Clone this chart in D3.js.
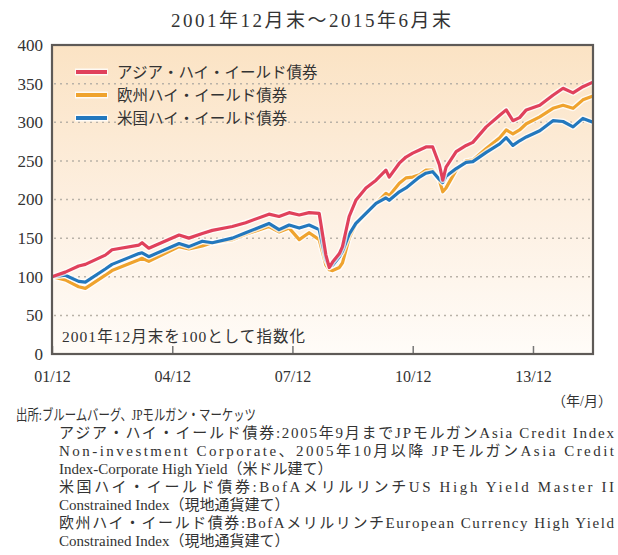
<!DOCTYPE html>
<html>
<head>
<meta charset="utf-8">
<script src="https://cdn.jsdelivr.net/npm/d3@7"></script>
<style>
  body { margin: 0; background: #fff; }
  svg text { font-family: "Liberation Serif", "DejaVu Serif", "Noto Sans CJK JP", serif; fill: #333; }
  .axis .domain { display: none; }
  .grid line { stroke: #b9b2a8; stroke-width: 1.5; stroke-dasharray: 2,4; }
</style>
</head>
<body>
<div id="chart"></div>
<script>
// Data (index, 2001/12 = 100)
var dates = ["2001-12","2002-04","2002-08","2002-10","2003-04","2003-06","2004-02","2004-03","2004-05",
  "2005-02","2005-05","2005-09","2005-12","2006-06","2006-10","2007-05","2007-08","2007-11","2008-02",
  "2008-05","2008-08","2008-10","2008-11","2008-12","2009-02","2009-03","2009-05","2009-07","2009-10",
  "2010-01","2010-04","2010-05","2010-08","2010-10","2010-12","2011-02","2011-04","2011-06","2011-08",
  "2011-09","2011-10","2012-01","2012-04","2012-06","2012-10","2013-02","2013-04","2013-06","2013-08",
  "2013-10","2014-02","2014-06","2014-09","2014-12","2015-03","2015-06"];

var asia = [100,106,114,116,128,135,141,144,137,154,150,156,160,165,170,181,178,183,180,
  183,182,128,112,119,130,139,178,199,215,225,238,229,247,255,260,264,268,268,245,
  225,242,262,270,274,294,309,316,302,306,316,322,335,344,338,346,352];

var europe = [100,96,87,85,102,108,122,124,120,139,136,140,144,148,155,165,158,163,148,
  157,148,115,109,108,112,118,150,168,182,195,208,205,221,228,229,232,238,238,225,
  210,215,238,250,251,266,280,290,285,290,298,307,318,322,318,329,334];

var us = [100,102,94,93,110,116,130,131,126,143,139,146,144,150,157,169,161,167,163,
  167,161,122,113,115,126,133,155,169,182,195,202,199,210,215,222,229,234,236,226,
  222,230,240,248,249,261,272,280,270,276,281,289,302,301,294,305,300];

var seriesNames = ["アジア・ハイ・イールド債券", "欧州ハイ・イールド債券", "米国ハイ・イールド債券"];
var seriesColors = ["#e0415c", "#efa32e", "#2378be"];

var yTicks = [0, 50, 100, 150, 200, 250, 300, 350, 400];
var xTickLabels = ["01/12", "04/12", "07/12", "10/12", "13/12"];

var titleText = "2001年12月末～2015年6月末";
var noteText = "2001年12月末を100として指数化";
var unitText = "（年/月）";
var sourceLines = [
  "出所:ブルームバーグ、JPモルガン・マーケッツ",
  "アジア・ハイ・イールド債券:2005年9月までJPモルガンAsia Credit Index",
  "Non-investment Corporate、2005年10月以降 JPモルガンAsia Credit",
  "Index-Corporate High Yield（米ドル建て）",
  "米国ハイ・イールド債券:BofAメリルリンチUS High Yield Master II",
  "Constrained Index（現地通貨建て）",
  "欧州ハイ・イールド債券:BofAメリルリンチEuropean Currency High Yield",
  "Constrained Index（現地通貨建て）"
];
var justified = [false, true, true, false, true, false, true, false];

var render = function() {
  var width = 618, height = 555;
  var margins = { top: 45, right: 25, bottom: 201, left: 52 };
  var chartWidth = width - margins.left - margins.right;
  var chartHeight = height - margins.top - margins.bottom;

  var parse = d3.timeParse("%Y-%m");
  var data = dates.map(function(d, i) {
    return { date: parse(d), values: [asia[i], europe[i], us[i]] };
  });

  var svg = d3.select("#chart").append("svg")
    .attr("width", width)
    .attr("height", height);

  var defs = svg.append("defs");
  var grad = defs.append("linearGradient").attr("id", "bg")
    .attr("x1", 0).attr("y1", 0).attr("x2", 0).attr("y2", 1);
  grad.append("stop").attr("offset", "0%").attr("stop-color", "#fbe3c4");
  grad.append("stop").attr("offset", "55%").attr("stop-color", "#fdf0e2");
  grad.append("stop").attr("offset", "100%").attr("stop-color", "#fffcf8");

  // Title
  svg.append("text")
    .attr("x", 311).attr("y", 27)
    .attr("text-anchor", "middle")
    .attr("textLength", 280).attr("lengthAdjust", "spacing")
    .style("font-size", "19px")
    .text(titleText);

  var chart = svg.append("g")
    .attr("transform", "translate(" + margins.left + "," + margins.top + ")");

  var xScale = d3.scaleTime()
    .domain([parse(dates[0]), parse(dates[dates.length - 1])])
    .range([0, chartWidth]);
  var yScale = d3.scaleLinear().domain([0, 400]).range([chartHeight, 0]);

  chart.append("rect")
    .attr("width", chartWidth).attr("height", chartHeight)
    .attr("fill", "url(#bg)");

  // Grid
  chart.append("g").attr("class", "grid")
    .selectAll("line")
    .data(yTicks.filter(function(d) { return d > 0 && d < 400; }))
    .enter().append("line")
    .attr("x1", 2).attr("x2", chartWidth - 2)
    .attr("y1", function(d) { return yScale(d); })
    .attr("y2", function(d) { return yScale(d); });

  // Axes
  var yAxis = d3.axisLeft(yScale).tickValues(yTicks).tickSize(0).tickPadding(9);
  chart.append("g").attr("class", "y axis")
    .call(yAxis)
    .selectAll("text")
    .style("font-size", "17px")
    .attr("fill", "#333");

  var xTicks = xTickLabels.map(function(l) { return parse("20" + l.replace("/", "-")); });
  var xAxis = d3.axisBottom(xScale)
    .tickValues(xTicks)
    .tickSizeInner(-8)
    .tickSizeOuter(0)
    .tickPadding(17)
    .tickFormat(d3.timeFormat("%y/%m"));
  var xg = chart.append("g").attr("class", "x axis")
    .attr("transform", "translate(0," + chartHeight + ")")
    .call(xAxis);
  xg.selectAll("line").attr("stroke", "#777").attr("stroke-width", 1.5);
  xg.selectAll("text").style("font-size", "16px").attr("fill", "#333");

  // Lines
  var order = [1, 2, 0];
  order.forEach(function(s) {
    var line = d3.line()
      .x(function(d) { return xScale(d.date); })
      .y(function(d) { return yScale(d.values[s]); });
    chart.append("path").datum(data)
      .attr("fill", "none").attr("stroke", "#fff").attr("stroke-opacity", 0.75)
      .attr("stroke-width", 6).attr("stroke-linejoin", "round")
      .attr("d", line);
    chart.append("path").datum(data)
      .attr("fill", "none").attr("stroke", seriesColors[s])
      .attr("stroke-width", 3.2).attr("stroke-linejoin", "round")
      .attr("d", line);
  });

  // Frame
  chart.append("rect")
    .attr("width", chartWidth).attr("height", chartHeight)
    .attr("fill", "none").attr("stroke", "#5e5a57").attr("stroke-width", 2.2);

  // Legend
  var legend = chart.append("g").attr("transform", "translate(23,27)");
  seriesNames.forEach(function(name, i) {
    var g = legend.append("g").attr("transform", "translate(0," + (i * 23) + ")");
    g.append("line").attr("x1", 0).attr("x2", 33)
      .attr("stroke", "#fff").attr("stroke-opacity", 0.8).attr("stroke-width", 7);
    g.append("line").attr("x1", 1).attr("x2", 32)
      .attr("stroke", seriesColors[i]).attr("stroke-width", 4);
    g.append("text").attr("x", 42).attr("y", 6)
      .style("font-size", "15.5px").text(name);
  });

  // Index note
  chart.append("text")
    .attr("x", 10).attr("y", chartHeight - 12)
    .attr("textLength", 243).attr("lengthAdjust", "spacing")
    .style("font-size", "15.5px")
    .text(noteText);

  // Unit
  svg.append("text")
    .attr("x", 612).attr("y", 406)
    .attr("text-anchor", "end")
    .style("font-size", "14px")
    .text(unitText);

  // Source notes
  var notes = svg.append("g");
  sourceLines.forEach(function(t, i) {
    var txt = notes.append("text")
      .attr("x", i === 0 ? 16 : 59)
      .attr("y", 420 + (i === 0 ? 0 : 18 + (i - 1) * 18))
      .style("font-size", "15px")
      .text(t);
    if (justified[i]) {
      txt.attr("textLength", 555).attr("lengthAdjust", "spacing");
    }
    if (i === 0) {
      txt.attr("textLength", 240).attr("lengthAdjust", "spacingAndGlyphs");
    }
  });
};

window.onload = render;
</script>
</body>
</html>
